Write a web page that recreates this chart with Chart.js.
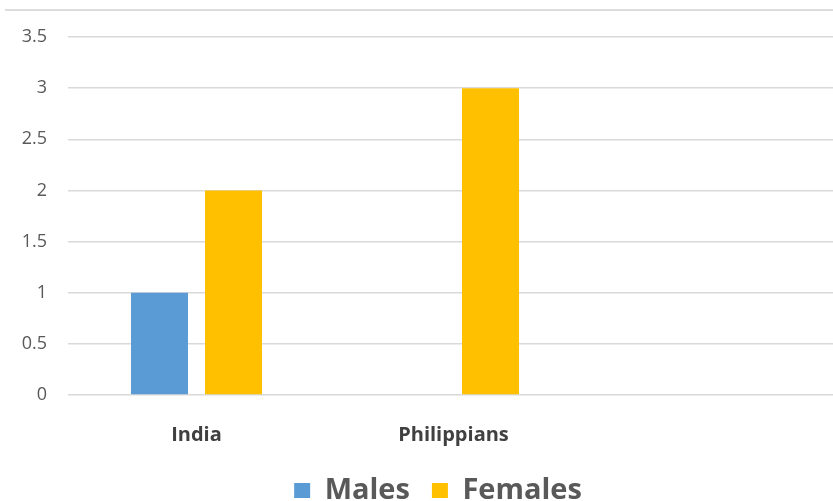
<!DOCTYPE html>
<html>
<head>
<meta charset="utf-8">
<script src="https://cdn.jsdelivr.net/npm/chart.js@4"></script>
<style>
  html, body { margin: 0; padding: 0; background: #fff; overflow: hidden; }
  #wrap { position: relative; width: 833px; height: 501px; overflow: hidden; }
  #frame { position: absolute; top: 9px; left: 5px; right: 0; border-top: 2px solid #dcdcdc; }
  #myChart { position: absolute; top: 0; left: 0; }
</style>
</head>
<body>
<div id="wrap">
  <div id="frame"></div>
  <canvas id="myChart" width="876" height="515"></canvas>
</div>
<script>
const categories = ["India", "Philippians", ""];
const males = [1, null, null];
const females = [2, 3, null];
const yTicks = [0, 0.5, 1, 1.5, 2, 2.5, 3, 3.5];

const font = "'Open Sans', 'Segoe UI', sans-serif";

const ctx = document.getElementById("myChart").getContext("2d");
new Chart(ctx, {
  type: "bar",
  data: {
    labels: categories,
    datasets: [
      { label: "Males", data: males, backgroundColor: "#5b9bd5", borderWidth: 0 },
      { label: "Females", data: females, backgroundColor: "#ffc000", borderWidth: 0 }
    ]
  },
  options: {
    responsive: false,
    animation: false,
    barPercentage: 0.77,
    categoryPercentage: 0.576,
    layout: { padding: { top: 37, left: 0, right: 0, bottom: 0 } },
    plugins: {
      legend: {
        position: "bottom",
        labels: {
          boxWidth: 16,
          boxHeight: 15,
          padding: 22,
          color: "#595959",
          font: { family: font, size: 29, weight: "bold" }
        }
      },
      tooltip: { enabled: false }
    },
    scales: {
      x: {
        afterFit: (scale) => { scale.height = 59; },
        grid: { display: false },
        border: { display: false },
        ticks: {
          color: "#404040",
          padding: 20,
          font: { family: font, size: 20, weight: "bold" }
        }
      },
      y: {
        min: 0,
        max: 3.5,
        afterFit: (scale) => { scale.width = 68; },
        afterBuildTicks: (scale) => { scale.ticks = yTicks.map(v => ({ value: v })); },
        grid: { color: "#d9d9d9", lineWidth: 1.5, drawTicks: false },
        border: { display: false },
        ticks: {
          color: "#595959",
          padding: 21,
          font: { family: font, size: 18 },
          callback: (value) => String(value)
        }
      },
      // empty axis on the right so the plot ends before the legend edge
      yRight: {
        position: "right",
        grid: { display: false },
        border: { display: false },
        ticks: { display: false },
        afterFit: (scale) => { scale.width = 37; }
      }
    }
  }
});
</script>
</body>
</html>
